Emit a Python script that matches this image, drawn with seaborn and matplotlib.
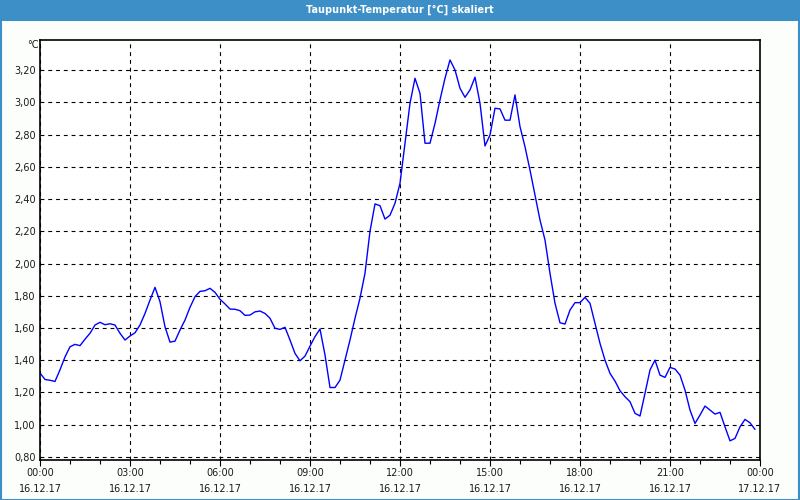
import numpy as np
import pandas as pd
import matplotlib
matplotlib.use("Agg")
import matplotlib.pyplot as plt
import matplotlib.ticker as mticker
from matplotlib.patches import Rectangle
import seaborn as sns

# ---- data ----
title = "Taupunkt-Temperatur [°C] skaliert"
unit_label = "°C"
minutes = np.arange(0, 1440, 10)  # 10-minute sampling, 00:00 .. 23:50
dewpoint = [
    1.32, 1.28, 1.275, 1.268, 1.34, 1.42, 1.483, 1.498, 1.49, 1.53,
    1.567, 1.618, 1.635, 1.62, 1.626, 1.618, 1.567, 1.525, 1.55, 1.57,
    1.618, 1.69, 1.773, 1.852, 1.763, 1.607, 1.512, 1.518, 1.587, 1.649,
    1.728, 1.794, 1.827, 1.831, 1.846, 1.821, 1.778, 1.749, 1.717, 1.716,
    1.707, 1.678, 1.68, 1.70, 1.705, 1.69, 1.66, 1.598, 1.591, 1.604,
    1.525, 1.442, 1.396, 1.425, 1.487, 1.546, 1.593, 1.432, 1.23, 1.23,
    1.276, 1.40, 1.525, 1.66, 1.785, 1.94, 2.2, 2.37, 2.359, 2.276,
    2.30, 2.374, 2.498, 2.747, 2.995, 3.15, 3.057, 2.747, 2.747, 2.87,
    3.016, 3.15, 3.264, 3.202, 3.088, 3.032, 3.078, 3.157, 2.995, 2.73,
    2.798, 2.964, 2.96, 2.89, 2.89, 3.047, 2.85, 2.725, 2.58, 2.425,
    2.27, 2.146, 1.939, 1.753, 1.632, 1.624, 1.711, 1.757, 1.757, 1.79,
    1.753, 1.629, 1.504, 1.40, 1.318, 1.27, 1.21, 1.173, 1.142, 1.07,
    1.053, 1.194, 1.339, 1.40, 1.307, 1.293, 1.355, 1.345, 1.307, 1.214,
    1.09, 1.007, 1.059, 1.115, 1.09, 1.065, 1.076, 0.986, 0.899, 0.914,
    0.986, 1.032, 1.011, 0.97,
]
x_tick_times = ["00:00", "03:00", "06:00", "09:00", "12:00", "15:00", "18:00", "21:00", "00:00"]
x_tick_dates = ["16.12.17"] * 8 + ["17.12.17"]
y_ticks = [0.80, 1.00, 1.20, 1.40, 1.60, 1.80, 2.00, 2.20, 2.40, 2.60, 2.80, 3.00, 3.20]

df = pd.DataFrame({"minute": minutes, "value": dewpoint})

# ---- figure ----
sns.set_theme(style="white")
plt.rcParams["font.family"] = ["DejaVu Sans"]

fig = plt.figure(figsize=(8, 5), dpi=100)
fig.patch.set_facecolor("#fcfefc")

# title bar
bar_color = "#3d8fc7"
fig.patches.append(Rectangle((0, 1 - 21 / 500), 1, 21 / 500, transform=fig.transFigure,
                             facecolor=bar_color, edgecolor="none", zorder=0))
# thin blue frame
fig.patches.append(Rectangle((0.5 / 800, 0.5 / 500), 1 - 1.5 / 800, 1 - 1.5 / 500,
                             transform=fig.transFigure, facecolor="none",
                             edgecolor=bar_color, linewidth=1.5, zorder=0))
fig.text(0.5, 1 - 10 / 500, title, color="white", ha="center", va="center",
         fontsize=7, fontweight="bold")

ax = fig.add_axes([40 / 800, 1 - 460 / 500, 720 / 800, 419.7 / 500])
ax.set_facecolor("white")

sns.lineplot(data=df, x="minute", y="value", ax=ax, color="#0000ff", linewidth=1.0)

ax.set_xlim(0, 1440)
ax.set_ylim(0.78, 3.386)

ax.xaxis.set_minor_locator(mticker.MultipleLocator(60))
ax.set_xticks(np.arange(0, 1441, 180))
ax.set_xticklabels([f"{t}\n{d}" for t, d in zip(x_tick_times, x_tick_dates)],
                   fontsize=7, color="#1a1a1a", linespacing=1.75)
ax.set_yticks(y_ticks)
ax.set_yticklabels([f"{v:.2f}".replace(".", ",") for v in y_ticks], fontsize=7, color="#1a1a1a")

ax.tick_params(axis="x", which="major", direction="out", length=4, width=0.8, color="black", pad=2,
               bottom=True)
ax.tick_params(axis="x", which="minor", direction="out", length=3, width=0.8, color="black", bottom=True)
ax.tick_params(axis="y", which="major", direction="out", length=0, pad=3, left=True)

ax.grid(True, which="major", color="black", linewidth=0.8, linestyle=(0, (3.5, 3.5)))
ax.set_axisbelow(True)
for s in ax.spines.values():
    s.set_visible(True)
    s.set_color("black")
    s.set_linewidth(1.2)

ax.set_xlabel("")
ax.set_ylabel("")
fig.text(33 / 800, 1 - 45 / 500, unit_label, ha="center", va="center", fontsize=7, color="#1a1a1a")

fig.savefig("out.png", dpi=100, facecolor=fig.get_facecolor())
